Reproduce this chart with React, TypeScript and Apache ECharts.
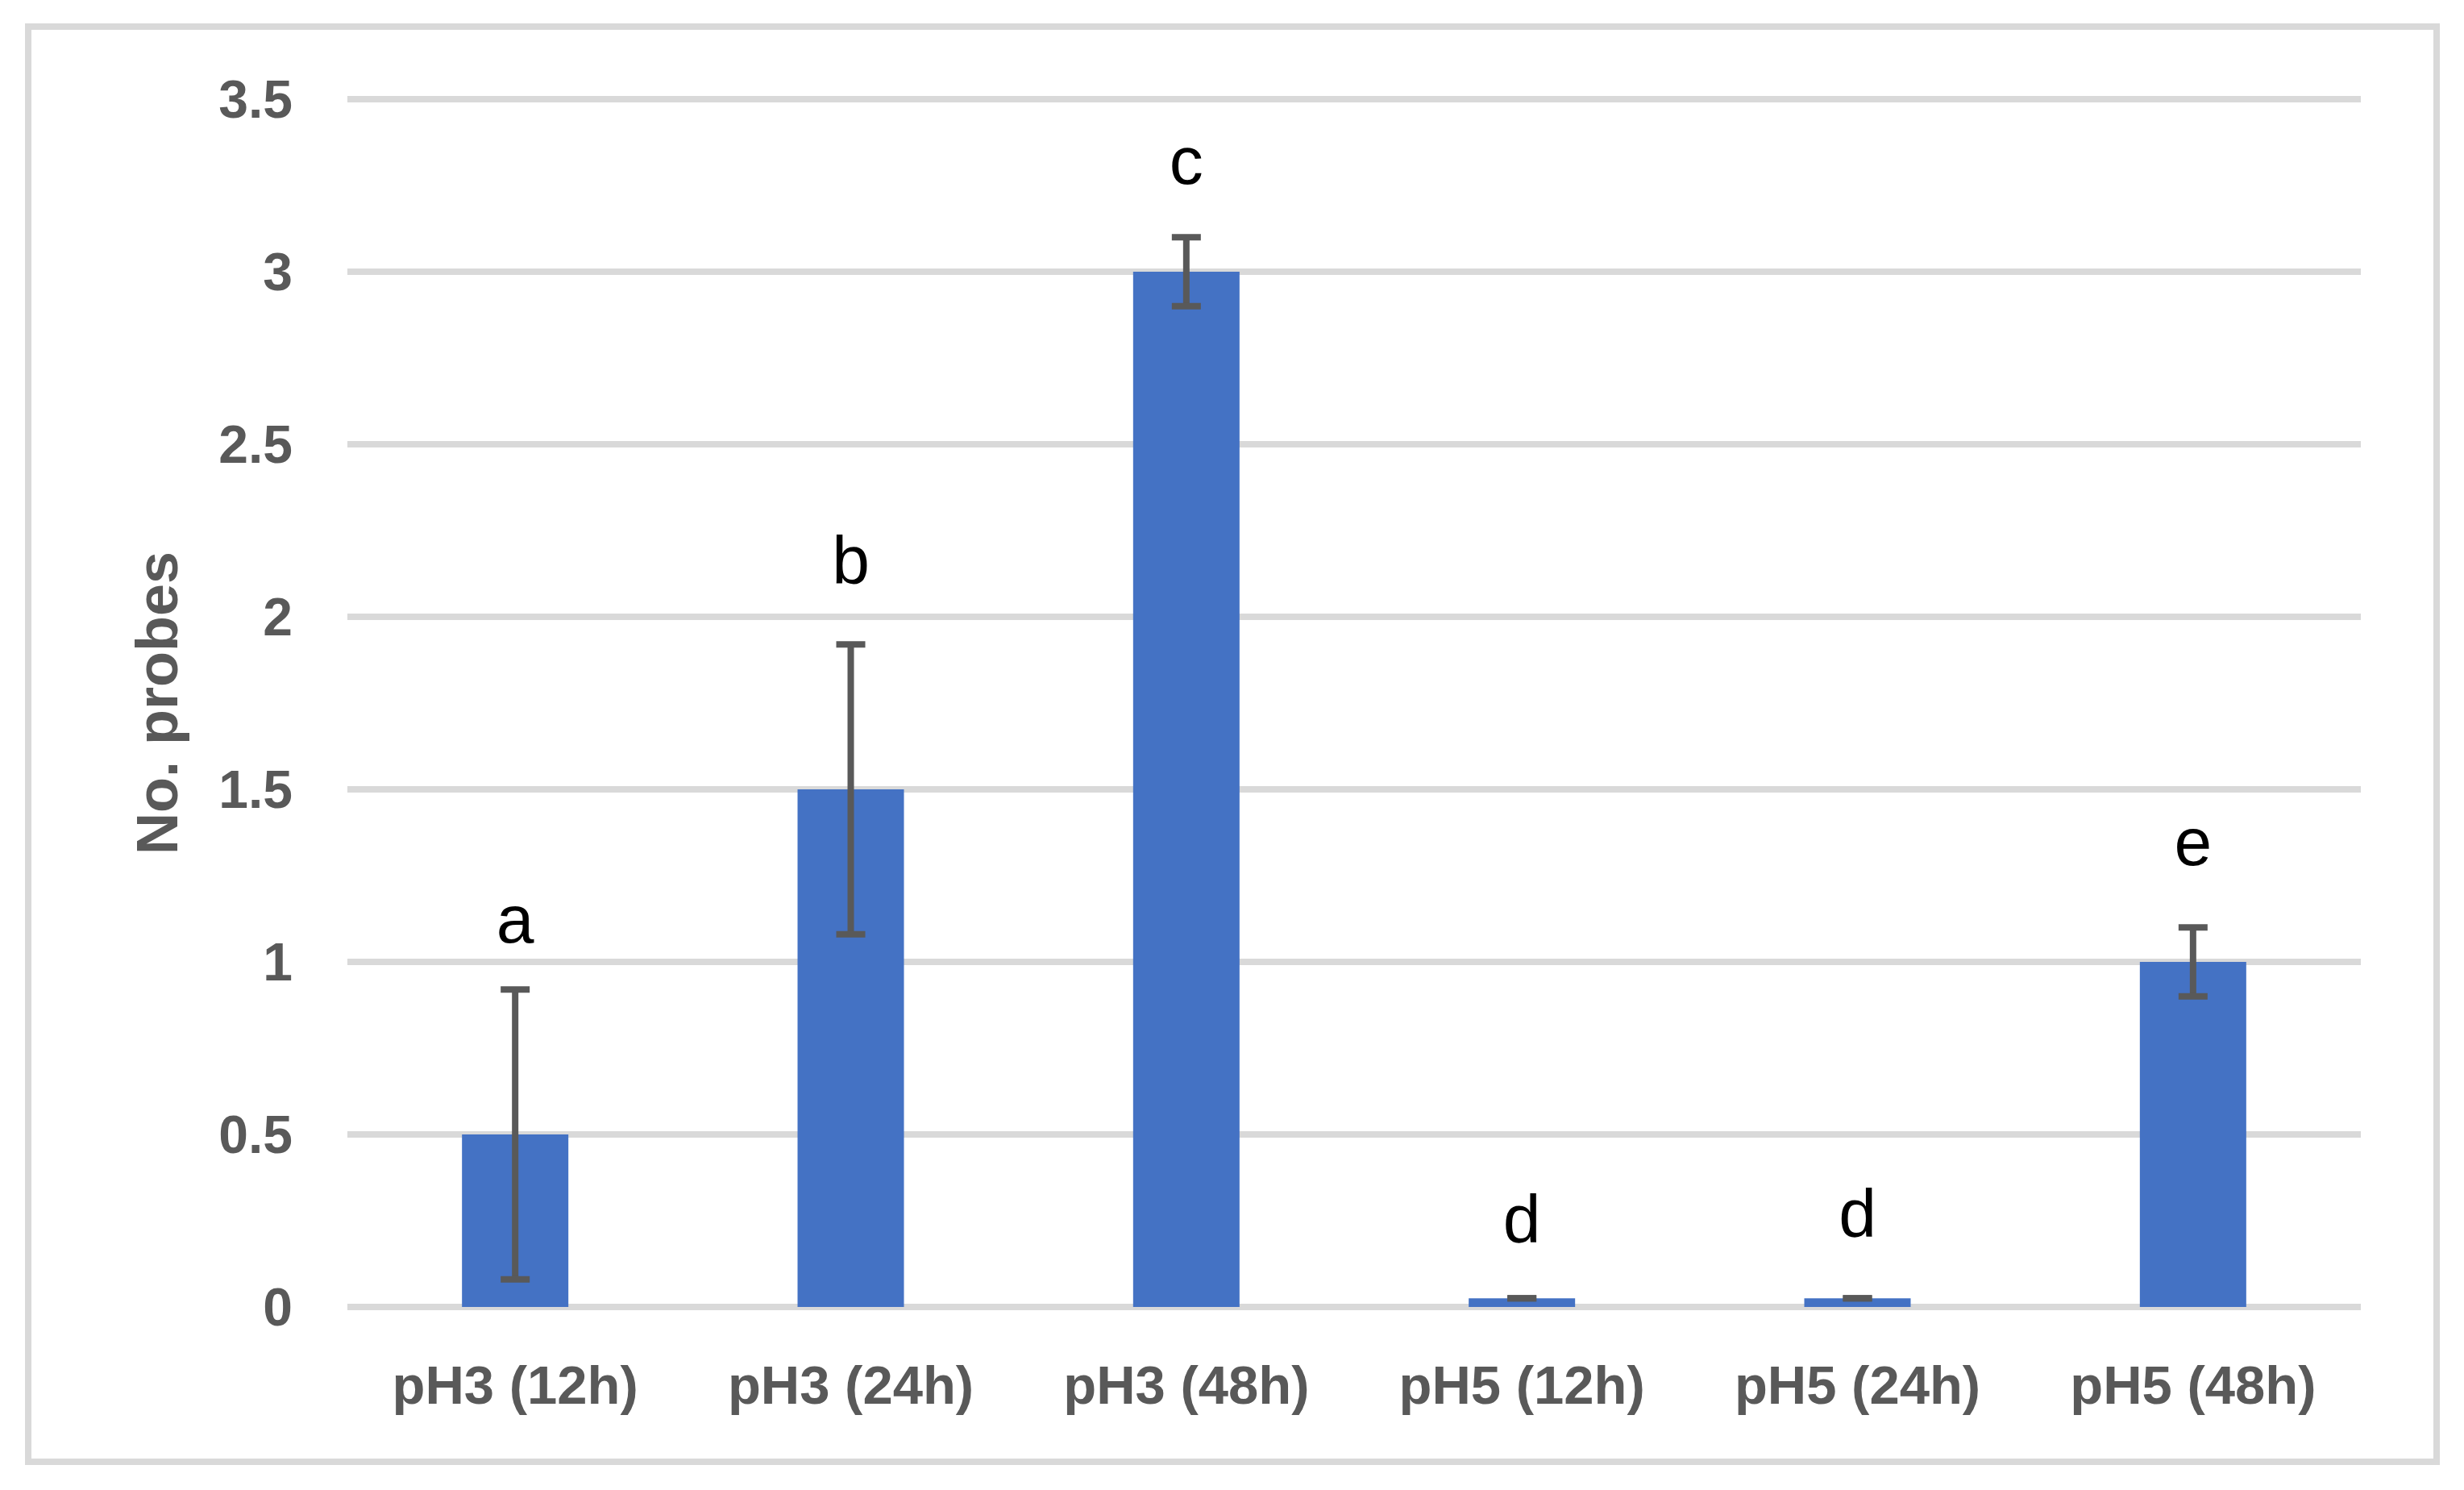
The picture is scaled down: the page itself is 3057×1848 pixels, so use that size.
import React, { useEffect, useRef } from "react";
import * as echarts from "echarts";

const categories = ["pH3 (12h)", "pH3 (24h)", "pH3 (48h)", "pH5 (12h)", "pH5 (24h)", "pH5 (48h)"];
const means = [0.5, 1.5, 3.0, 0.025, 0.025, 1.0];
const errors = [0.42, 0.42, 0.1, 0, 0, 0.1];
const letters = ["a", "b", "c", "d", "d", "e"];
const letterLevels = [1.124, 2.164, 3.323, 0.255, 0.271, 1.348];
const yTicks = ["0", "0.5", "1", "1.5", "2", "2.5", "3", "3.5"];

const W = 3057;
const H = 1848;

export default function App() {
  const ref = useRef<HTMLDivElement>(null);
  useEffect(() => {
    document.body.style.margin = "0";
    if (!ref.current) return;
    const chart = echarts.init(ref.current, undefined, { renderer: "svg" });
    const gray = "#595959";
    const grid = "#d9d9d9";
    const labelFont = "'Liberation Sans', Arial, sans-serif";
    const errData = means.map((m, i) => [i, m - errors[i], m + errors[i]]);
    const letterData = letterLevels.map((v, i) => [i, v]);
    chart.setOption({
      animation: false,
      backgroundColor: "#ffffff",
      grid: { left: 431, right: 128, top: 123, bottom: 227 },
      graphic: [
        {
          type: "rect",
          shape: { x: 35, y: 33, width: 2988, height: 1780 },
          style: { fill: "none", stroke: grid, lineWidth: 8 },
          z: -1,
        },
      ],
      xAxis: {
        type: "category",
        data: categories,
        axisLine: { show: false },
        axisTick: { show: false },
        axisLabel: {
          color: gray,
          fontSize: 67,
          fontWeight: "bold",
          fontFamily: labelFont,
          margin: 63,
        },
      },
      yAxis: {
        type: "value",
        min: 0,
        max: 3.5,
        interval: 0.5,
        name: "No. probes",
        nameLocation: "middle",
        nameGap: 200,
        nameTextStyle: { color: gray, fontSize: 72, fontWeight: "bold", fontFamily: labelFont },
        axisLine: { show: false },
        axisTick: { show: false },
        splitLine: { lineStyle: { color: grid, width: 8 } },
        axisLabel: {
          color: gray,
          fontSize: 66,
          fontWeight: "bold",
          fontFamily: labelFont,
          margin: 68,
          formatter: (v: number) => yTicks[Math.round(v / 0.5)] ?? String(v),
        },
      },
      series: [
        {
          type: "bar",
          data: means,
          barWidth: 132,
          itemStyle: { color: "#4472c4" },
          z: 2,
        },
        {
          type: "custom",
          data: errData,
          encode: { x: 0, y: [1, 2] },
          z: 3,
          renderItem: (params: any, api: any) => {
            const i = api.value(0);
            const top = api.coord([i, api.value(2)]);
            const bot = api.coord([i, api.value(1)]);
            const hw = 18;
            const st = { stroke: gray, lineWidth: 8 };
            return {
              type: "group",
              children: [
                { type: "line", shape: { x1: top[0], y1: top[1], x2: bot[0], y2: bot[1] }, style: st },
                { type: "line", shape: { x1: top[0] - hw, y1: top[1], x2: top[0] + hw, y2: top[1] }, style: st },
                { type: "line", shape: { x1: bot[0] - hw, y1: bot[1], x2: bot[0] + hw, y2: bot[1] }, style: st },
              ],
            };
          },
        },
        {
          type: "custom",
          data: letterData,
          encode: { x: 0, y: 1 },
          z: 4,
          renderItem: (params: any, api: any) => {
            const p = api.coord([api.value(0), api.value(1)]);
            return {
              type: "text",
              x: p[0],
              y: p[1],
              style: {
                text: letters[params.dataIndex],
                fill: "#000000",
                fontSize: 84,
                fontFamily: "'Liberation Sans Narrow', 'Liberation Sans', sans-serif",
                align: "center",
                verticalAlign: "middle",
              },
            };
          },
        },
      ],
    });
    return () => chart.dispose();
  }, []);
  return <div ref={ref} style={{ width: W, height: H }} />;
}
